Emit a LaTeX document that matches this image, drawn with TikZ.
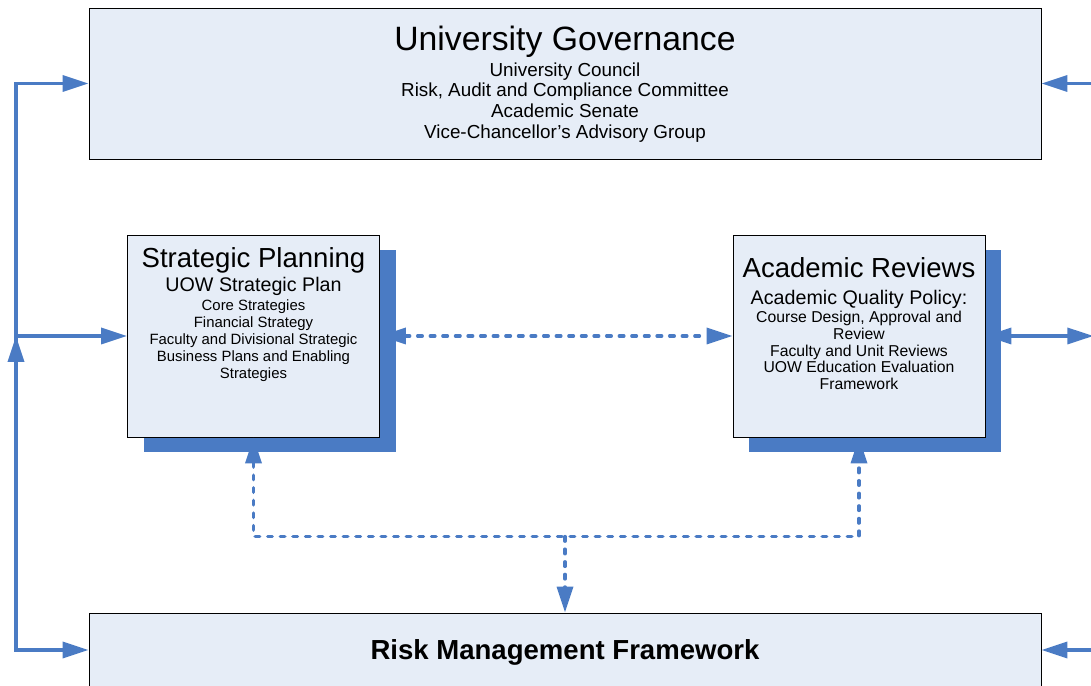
\documentclass[tikz,border=0pt]{standalone}
\usepackage{fontspec}
\setmainfont{Liberation Sans}
\usepackage{tikz}
\usetikzlibrary{arrows.meta, positioning, shadows}
\definecolor{boxfill}{RGB}{230, 237, 247}
\definecolor{linkblue}{RGB}{74, 123, 196}

\begin{document}
\begin{tikzpicture}[
			>={Triangle[length=0.65cm, width=0.4cm]},
			block/.style={rectangle, draw=black, line width=0.6pt, fill=boxfill, inner sep=0pt},
			wide/.style={block, minimum width=23.8cm},
			unit/.style={block, minimum width=6.3cm, minimum height=5.05cm, drop shadow={shadow xshift=0.4cm, shadow yshift=-0.375cm, fill=linkblue, opacity=1}},
			link/.style={line width=0.085cm, draw=linkblue},
			dotlink/.style={link, line cap=round, dash pattern=on 0.115cm off 0.2cm},
			bigtitle/.style={font=\fontsize{24}{28}\selectfont, anchor=base},
			unittitle/.style={font=\fontsize{19.6}{22}\selectfont, anchor=base},
			unitsub/.style={font=\fontsize{14}{16}\selectfont, anchor=base},
			itemlist/.style={align=center, anchor=north, inner sep=0pt}
		]
		\clip (0,0) rectangle (27.275,17.15);
		
		% Governance on top, risk framework at the bottom
		\node[wide, minimum height=3.775cm] (gov) at (14.125,15.0625) {};
		\node[wide, minimum height=1.85cm, text depth=0pt, font=\fontsize{19.6}{22}\selectfont\bfseries] (risk) at (14.125,0.9) {Risk Management Framework};
		
		% Planning and review units
		\node[unit] (plan) at (6.3375,8.75) {};
		\node[unit] (review) at (21.475,8.75) {};
		
		% Titles and lists
		\node[bigtitle] (gov-title) at ([yshift=-1.075cm]gov.north) {University Governance};
		\node[itemlist, font=\fontsize{13.4}{14.8}\selectfont] (gov-list) at ([yshift=-1.3625cm]gov.north) {University Council\\Risk, Audit and Compliance Committee\\Academic Senate\\Vice-Chancellor’s Advisory Group};
		
		\node[unittitle] (plan-title) at ([yshift=-0.8175cm]plan.north) {Strategic Planning};
		\node[unitsub] (plan-sub) at ([yshift=-1.4325cm]plan.north) {UOW Strategic Plan};
		\node[itemlist, font=\fontsize{10.6}{12}\selectfont] (plan-list) at ([yshift=-1.628cm]plan.north) {Core Strategies\\Financial Strategy\\Faculty and Divisional Strategic\\Business Plans and Enabling\\Strategies};
		
		\node[unittitle] (review-title) at ([yshift=-1.0675cm]review.north) {Academic Reviews};
		\node[unitsub] (review-sub) at ([yshift=-1.75cm]review.north) {Academic Quality Policy:};
		\node[itemlist, font=\fontsize{11.2}{11.95}\selectfont] (review-list) at ([yshift=-1.905cm]review.north) {Course Design, Approval and\\Review\\Faculty and Unit Reviews\\UOW Education Evaluation\\Framework};
		
		% Loose ends of the connectors
		\coordinate (bus) at (0.4,8.75);
		\coordinate (hub) at ([yshift=1.9cm]risk.north);
		\coordinate (gov-in) at ([xshift=1.3cm]gov.east);
		\coordinate (review-out) at ([xshift=2.7cm]review.east);
		\coordinate (risk-in) at ([xshift=1.3cm]risk.east);
		
		% Left feedback bus
		\draw[link, ->] (bus) |- (gov.west);
		\draw[link, ->] (bus) -- (plan.west);
		\draw[link, ->] (bus) |- (risk.west);
		\draw[link, ->] (bus |- risk.west) -- (bus);
		
		% Right side
		\draw[link, ->] (gov-in) -- (gov.east);
		\draw[link, <->] (review.east) -- (review-out);
		\draw[link, ->] (risk-in) -- (risk.east);
		
		% Dotted exchanges
		\draw[dotlink, <->] (plan.east) -- (review.west);
		\draw[dotlink, <->] (plan.south) |- (hub) -| (review.south);
		\draw[dotlink, ->] (hub) -- (risk.north);
		\end{tikzpicture}
\end{document}
